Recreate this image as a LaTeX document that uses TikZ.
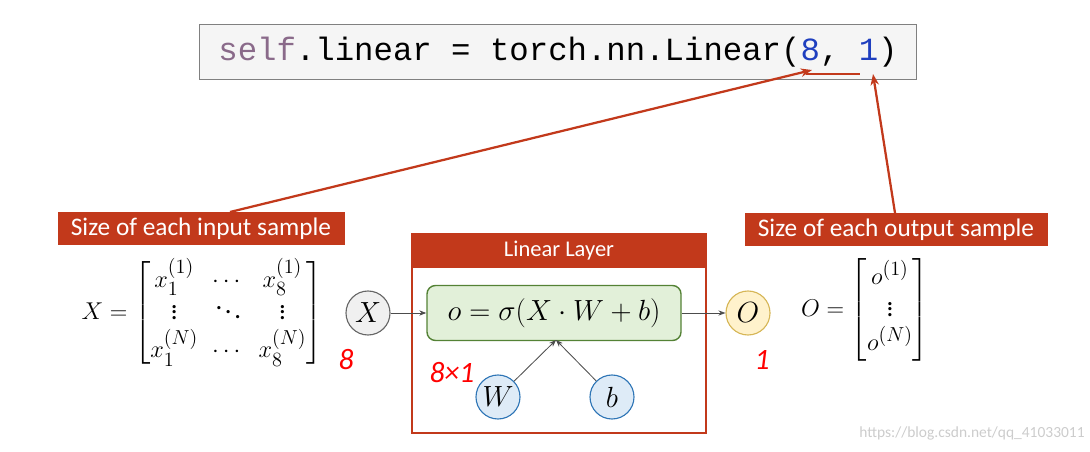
\documentclass[tikz,border=0pt]{standalone}
\usepackage{fontspec}
\usepackage{amsmath}
\setmainfont{Carlito}
\newfontfamily\codefont{Liberation Mono}
\usetikzlibrary{arrows.meta}
\definecolor{lred}{HTML}{C2391B}
\definecolor{gfill}{HTML}{E2F0D9}
\definecolor{gdraw}{HTML}{548235}
\definecolor{bfill}{HTML}{DEEBF7}
\definecolor{bdraw}{HTML}{2E75B6}
\definecolor{yfill}{HTML}{FFF2CC}
\definecolor{ydraw}{HTML}{D6B656}
\definecolor{codeblue}{HTML}{1F3FBF}
\definecolor{codepurple}{HTML}{8A6A8A}
\begin{document}
\begin{tikzpicture}[x=0.025cm,y=-0.025cm,
  lab/.style={fill=lred,text=white,font=\fontsize{18}{20}\selectfont,inner sep=3pt,minimum height=33*0.025cm},
  circ/.style={circle,draw,line width=0.8pt,minimum size=44*0.025cm,inner sep=0pt,font=\fontsize{21}{23}\selectfont},
  arr/.style={-{Stealth[length=5pt]},draw=black!70,line width=0.6pt},
  rarr/.style={-{Stealth[length=8pt]},draw=lred,line width=1.6pt},
  hand/.style={text=red,font=\fontsize{21}{23}\selectfont\itshape}]
\useasboundingbox (0,0) rectangle (1090,452);
% code box
\node[draw=black!50,fill=black!4,line width=0.8pt,minimum width=717*0.025cm,minimum height=55*0.025cm,inner sep=0pt] (code) at (558,52)
 {\codefont\fontsize{23}{26}\selectfont\textcolor{codepurple}{self}.linear = torch.nn.Linear(\textcolor{codeblue}{8}, \textcolor{codeblue}{1})};
\coordinate (c8) at (812,70);
\coordinate (c1) at (873,74);
\draw[lred,line width=1.2pt] (806,74) -- (860,74);
% labels
\node[lab,minimum width=287*0.025cm] (inl) at (201,229) {Size of each input sample};
\node[lab,minimum width=303*0.025cm] (outl) at (896,230) {Size of each output sample};
\draw[rarr] (230,212) -- (c8);
\draw[rarr] (895,213) -- (c1);
% matrix X
\node (mx) at (202,313) {\fontsize{19}{23}\selectfont$X=\begin{bmatrix}x_1^{(1)} & \cdots & x_8^{(1)}\\ \vdots & \ddots & \vdots\\ x_1^{(N)} & \cdots & x_8^{(N)}\end{bmatrix}$};
% linear layer
\node[draw=lred,line width=0.8pt,minimum width=294*0.025cm,minimum height=199*0.025cm,inner sep=0pt] (layer) at (559,333.5) {};
\node[fill=lred,text=white,minimum width=294*0.025cm,minimum height=34*0.025cm,inner sep=0pt,font=\fontsize{16}{18}\selectfont] (head) at (559,251) {Linear Layer};
\node[draw=gdraw,fill=gfill,rounded corners=6pt,line width=1pt,minimum width=254*0.025cm,minimum height=55*0.025cm,inner sep=0pt,font=\fontsize{21}{23}\selectfont] (f) at (554,313) {$o=\sigma(X\cdot W+b)$};
\node[circ,draw=black!60,fill=black!6] (X) at (368,313) {$X$};
\node[circ,draw=ydraw,fill=yfill] (O) at (748,313) {$O$};
\node[circ,draw=bdraw,fill=bfill] (W) at (498,397) {$W$};
\node[circ,draw=bdraw,fill=bfill] (b) at (612,397) {$b$};
\coordinate (fin) at (556,340);
\draw[arr] (X) -- (f);
\draw[arr] (f) -- (O);
\draw[arr] (W) -- (fin);
\draw[arr] (b) -- (fin);
% O matrix
\node (mo) at (865,310) {\fontsize{19}{23}\selectfont$O=\begin{bmatrix}o^{(1)}\\ \vdots\\ o^{(N)}\end{bmatrix}$};
% handwritten
\node[hand] (h8) at (346,360) {8};
\node[hand] (h81) at (452,373) {8×1};
\node[hand] (h1) at (762,360) {1};
\node[text=black!20,font=\fontsize{11}{13}\selectfont] (wm) at (972,433) {https://blog.csdn.net/qq\_41033011};
\end{tikzpicture}
\end{document}
